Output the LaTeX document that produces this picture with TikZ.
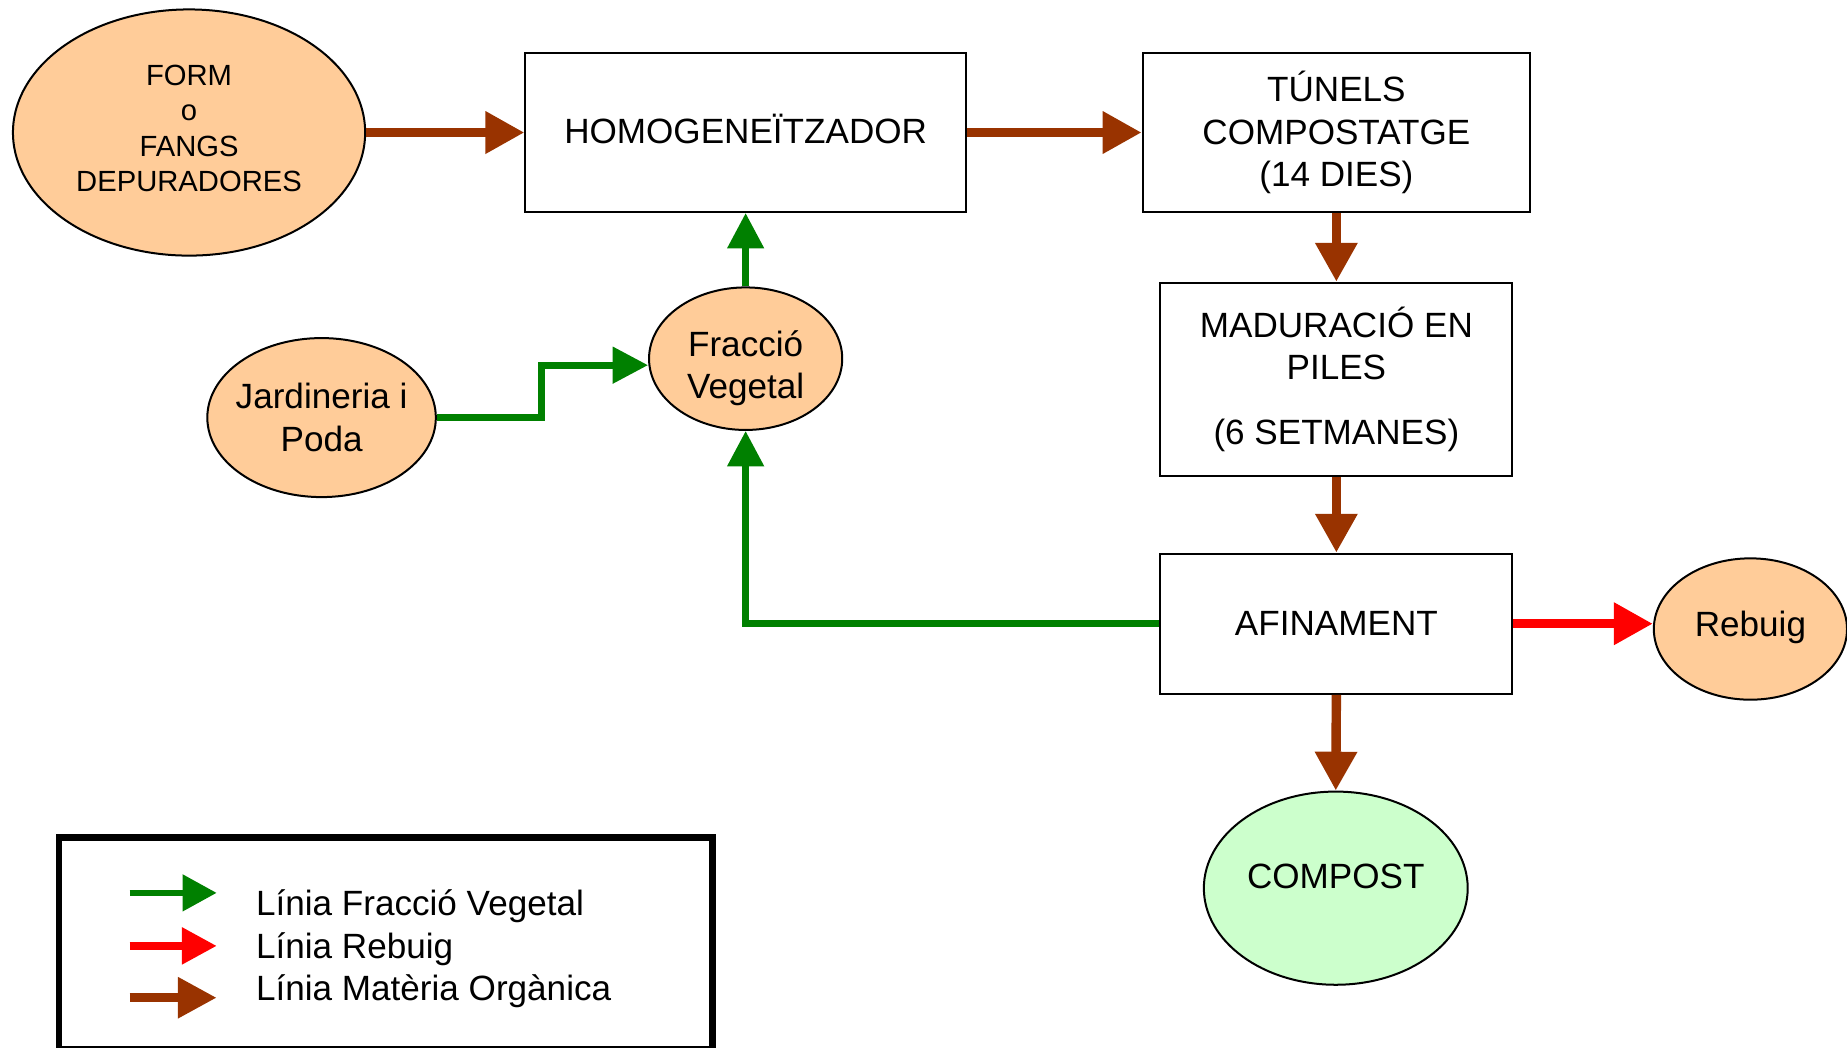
\documentclass[tikz,border=0pt]{standalone}
\usepackage{fontspec}
\setmainfont{Liberation Sans}
\usetikzlibrary{arrows.meta,shapes.geometric}
\definecolor{peach}{HTML}{FFCC99}
\definecolor{mint}{HTML}{CCFFCC}
\definecolor{orgbrown}{HTML}{993300}
\definecolor{vgreen}{HTML}{008000}
\definecolor{rred}{HTML}{FF0000}
\newcommand\mainfs{\fontsize{14.9}{18}\selectfont}
\newcommand\formfs{\fontsize{12.4}{15}\selectfont}
\begin{document}
\begin{tikzpicture}[x=0.5pt,y=-0.5pt,
  procbox/.style={draw=black, line width=0.85pt, fill=white, inner sep=0pt, align=center, font=\mainfs},
  blob/.style={ellipse, draw=black, line width=0.85pt, fill=peach, inner sep=0pt},
  txtlab/.style={align=center, inner sep=0pt, font=\mainfs},
  orgline/.style={draw=orgbrown, line width=4pt, -{Triangle[length=16.5pt,width=17pt]}},
  vegline/.style={draw=vgreen, line width=2.85pt, -{Triangle[length=15pt,width=15pt]}},
  rebline/.style={draw=rred, line width=4pt, -{Triangle[length=16.5pt,width=17pt]}},
]
\useasboundingbox (0,0) rectangle (1568,889);

% process boxes
\node[procbox, minimum width=187pt, minimum height=67.5pt, text depth=3pt] (homo) at (633,112.5) {HOMOGENEÏTZADOR};
\node[procbox, minimum width=164.5pt, minimum height=67.5pt] (tun) at (1134.5,112.5) {TÚNELS\\COMPOSTATGE\\(14 DIES)};
\node[procbox, minimum width=149.5pt, minimum height=82pt] (mad) at (1134.5,322) {MADURACIÓ EN\\PILES\\[9.5pt](6 SETMANES)};
\node[procbox, minimum width=149.5pt, minimum height=59.5pt] (afi) at (1134.5,529.5) {AFINAMENT};

% ellipses
\node[blob, minimum width=149.5pt, minimum height=104.5pt,
  label={[txtlab, font=\formfs, yshift=1.75pt]center:{FORM\\o\\FANGS\\DEPURADORES}}] (form) at (160.5,112.5) {};
\node[blob, minimum width=82pt, minimum height=60.5pt,
  label={[txtlab, yshift=-4pt]center:{Fracció\\Vegetal}}] (fv) at (633,304.5) {};
\node[blob, minimum width=97pt, minimum height=67.5pt,
  label={[txtlab]center:{Jardineria i\\Poda}}] (jp) at (273,354.5) {};
\node[blob, minimum width=82pt, minimum height=60pt,
  label={[txtlab, yshift=0.5pt]center:{Rebuig}}] (reb) at (1486,534) {};
\node[blob, fill=mint, minimum width=112pt, minimum height=82pt,
  label={[txtlab, yshift=5pt]center:{COMPOST}}] (comp) at (1134,754) {};

% connectors: organic matter
\draw[orgline] (form.east) -- (homo.west);
\draw[orgline] (homo.east) -- (tun.west);
\draw[orgline] (tun.south) -- (mad.north);
\draw[orgline] (mad.south) -- (afi.north);
\draw[orgline] (afi.south) -- (comp.north);
% reject
\draw[rebline] (afi.east) -- (afi.east -| reb.west);
% vegetal fraction
\draw[vegline] (afi.west) -| (fv.south);
\draw[vegline] (fv.north) -- (homo.south);
\draw[vegline] (jp.east) -- ++(89,0) |- ([yshift=-2.75pt]fv.west);

% legend
\node[draw=black, line width=2.85pt, minimum width=277.5pt, minimum height=90pt, inner sep=0pt] (leg) at (327.5,801) {};
\coordinate (lg1a) at (110,758); \coordinate (lg1b) at (184,758);
\coordinate (lg2a) at (110,803); \coordinate (lg2b) at (184,803);
\coordinate (lg3a) at (110,847); \coordinate (lg3b) at (184,847);
\draw[draw=vgreen, line width=2.85pt, -{Triangle[length=14.5pt,width=15pt]}] (lg1a) -- (lg1b);
\draw[draw=rred, line width=3.25pt, -{Triangle[length=14.8pt,width=15pt]}] (lg2a) -- (lg2b);
\draw[draw=orgbrown, line width=4pt, -{Triangle[length=16.5pt,width=16.5pt]}] (lg3a) -- (lg3b);
\node[anchor=west, align=left, inner sep=0pt, font=\mainfs] (legt) at (217,805.5) {Línia Fracció Vegetal\\Línia Rebuig\\Línia Matèria Orgànica};
\end{tikzpicture}
\end{document}
